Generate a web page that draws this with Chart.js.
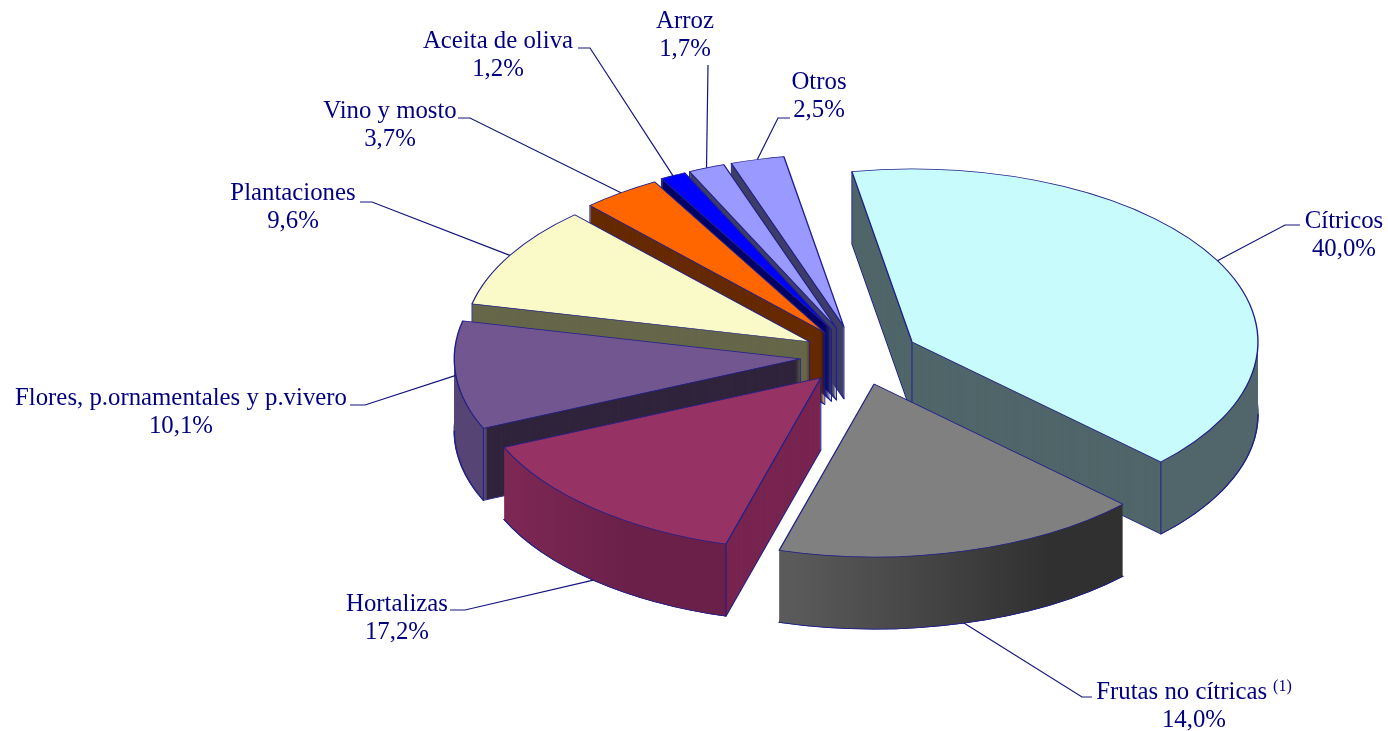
<!DOCTYPE html>
<html>
<head>
<meta charset="utf-8">
<title>Pie</title>
<script src="https://cdn.jsdelivr.net/npm/chart.js@4"></script>
<style>
html, body { margin: 0; padding: 0; background: #fff; }
canvas { display: block; }
</style>
</head>
<body>
<canvas id="myChart" width="1388" height="731"></canvas>
<script>
// slice sizes as drawn in the picture, clockwise from the Citricos slice
var sliceValues = [40.0, 17.2, 14.0, 10.1, 9.6, 3.7, 1.2, 1.7, 2.5];
var labelNames = ['Cítricos', 'Frutas no cítricas', 'Hortalizas', 'Flores, p.ornamentales y p.vivero',
    'Plantaciones', 'Vino y mosto', 'Aceita de oliva', 'Arroz', 'Otros'];
var labelValues = ['40,0%', '14,0%', '17,2%', '10,1%', '9,6%', '3,7%', '1,2%', '1,7%', '2,5%'];
var labelNotes = ['', '(1)', '', '', '', '', '', '', ''];

var topColors = ['#c8fbfb', '#808080', '#963264', '#725690', '#fafac8', '#ff6600', '#0000ff', '#9999ff', '#9999ff'];
var faceColors = ['#50666a', '#404040', '#782450', '#30243c', '#66664a', '#662a00', '#000066', '#3d3d66', '#3d3d66'];
var wallLeft = ['#50666a', '#5a5a5a', '#842a5a', '#5f5084', '#66664a', '#662a00', '#000066', '#3d3d66', '#3d3d66'];
var wallRight = ['#50666a', '#303030', '#6a2048', '#554474', '#66664a', '#662a00', '#000066', '#3d3d66', '#3d3d66'];

// how far each slice is pulled out of the pie
var explodes = [60, 58, 58, 59, 57, 58, 60, 60, 60];

// label layout: centre x, first baseline, leader elbow, leader end, leader starts on lower rim
var labelX = [1344, 1194, 397, 181, 293, 390, 498, 685, 819];
var labelY = [228, 699, 611, 405, 200, 118, 48, 28, 89];
var elbows = [[1285, 225], [1082, 697], [465, 610], [365, 405], [372, 202], [470, 118], [590, 48], [708, 65], [778, 118]];
var leaderEnds = [[1300, 225], [1092, 697], [450, 610], [350, 405], [360, 202], [458, 118], [578, 48], [708, 65], [790, 118]];
var leaderLow = [0, 1, 1, 0, 0, 0, 0, 0, 0];

var drawOrder = [8, 7, 6, 5, 4, 3, 0, 1, 2];
var SQUASH = 0.5, DEPTH = 72;
var EDGE = '#20208a', TEXT = '#000080', FONT = '"Liberation Serif", "Times New Roman", serif';

function copyArc(arc, fill, stroke, width, extra) {
    var a = Object.create(arc);
    a.options = {
        backgroundColor: fill, borderColor: stroke, borderWidth: width, borderAlign: 'center',
        borderJoinStyle: 'round', borderRadius: 0, borderDash: [], borderDashOffset: 0,
        offset: 0, spacing: 0, circular: true
    };
    if (extra) Object.assign(a, extra);
    return a;
}

function pieSpace(ctx, arc, dx, dy) {
    ctx.setTransform(1, 0, 0, SQUASH, dx, arc.y * (1 - SQUASH) + dy);
}

var pie3d = {
    id: 'pie3d',
    beforeDatasetsDraw: function (chart) {
        var ctx = chart.ctx;
        var arcs = chart.getDatasetMeta(0).data;
        var dpr = chart.currentDevicePixelRatio || 1;
        drawOrder.forEach(function (i) {
            var arc = arcs[i];
            var mid = (arc.startAngle + arc.endAngle) / 2;
            var ex = Math.cos(mid) * explodes[i], ey = Math.sin(mid) * explodes[i] * SQUASH;
            var d;
            ctx.save();
            // radial faces
            pieSpace(ctx, arc, ex, ey + DEPTH);
            copyArc(arc, faceColors[i], EDGE, 1.4).draw(ctx);
            for (d = DEPTH - 1; d > 0; d--) {
                pieSpace(ctx, arc, ex, ey + d);
                copyArc(arc, faceColors[i], EDGE, 0).draw(ctx);
            }
            // outer wall, only the part of the rim that faces the viewer
            var s = arc.startAngle, e = arc.endAngle;
            if (s > Math.PI) { s -= 2 * Math.PI; e -= 2 * Math.PI; }
            var ws = Math.max(s, 0), we = Math.min(e, Math.PI);
            if (we > ws) {
                var x0 = arc.x + ex + Math.cos(we) * arc.outerRadius;
                var x1 = arc.x + ex + Math.cos(ws) * arc.outerRadius;
                ctx.setTransform(1, 0, 0, 1, 0, 0);
                var grad = ctx.createLinearGradient(x0, 0, x1, 0);
                grad.addColorStop(0, wallLeft[i]);
                grad.addColorStop(0.75, wallRight[i]);
                grad.addColorStop(1, wallRight[i]);
                var rim = { startAngle: ws, endAngle: we, circumference: we - ws, innerRadius: arc.outerRadius - 4 };
                for (d = DEPTH; d > 0; d--) {
                    pieSpace(ctx, arc, ex, ey + d);
                    copyArc(arc, grad, EDGE, 0, rim).draw(ctx);
                }
                // lower outline of the wall
                pieSpace(ctx, arc, ex, ey + DEPTH);
                copyArc(arc, 'rgba(0,0,0,0)', EDGE, 1.4, {
                    startAngle: ws, endAngle: we, circumference: we - ws, innerRadius: arc.outerRadius - 0.01
                }).draw(ctx);
            }
            // vertical edges at the visible corners
            ctx.setTransform(1, 0, 0, 1, 0, 0);
            ctx.strokeStyle = EDGE;
            ctx.lineWidth = 1;
            var ax = arc.x + ex, ay = arc.y + ey;
            var corner = function (a) {
                var px = ax + Math.cos(a) * arc.outerRadius, py = ay + Math.sin(a) * arc.outerRadius * SQUASH;
                ctx.beginPath();
                ctx.moveTo(px, py);
                ctx.lineTo(px, py + DEPTH);
                ctx.stroke();
            };
            var startShows = Math.cos(s) < 0, endShows = Math.cos(e) > 0;
            if (startShows) corner(s);
            if (endShows) corner(e);
            if (startShows || endShows) {
                ctx.beginPath();
                ctx.moveTo(ax, ay);
                ctx.lineTo(ax, ay + DEPTH);
                ctx.stroke();
            }
            // top of the slice
            pieSpace(ctx, arc, ex, ey);
            copyArc(arc, topColors[i], EDGE, 1.4).draw(ctx);
            ctx.restore();
        });
        ctx.setTransform(dpr, 0, 0, dpr, 0, 0);
        drawLabels(ctx, arcs);
        return false;
    }
};

function drawLabels(ctx, arcs) {
    ctx.save();
    arcs.forEach(function (arc, i) {
        var mid = (arc.startAngle + arc.endAngle) / 2;
        var r = explodes[i] + arc.outerRadius;
        var sx = arc.x + Math.cos(mid) * r;
        var sy = arc.y + Math.sin(mid) * r * SQUASH + leaderLow[i] * DEPTH;
        ctx.strokeStyle = '#14147f';
        ctx.lineWidth = 1.2;
        ctx.beginPath();
        ctx.moveTo(sx, sy);
        ctx.lineTo(elbows[i][0], elbows[i][1]);
        ctx.lineTo(leaderEnds[i][0], leaderEnds[i][1]);
        ctx.stroke();

        ctx.fillStyle = TEXT;
        ctx.textBaseline = 'alphabetic';
        ctx.textAlign = 'left';
        ctx.font = '24.8px ' + FONT;
        var w = ctx.measureText(labelNames[i]).width;
        var noteGap = labelNotes[i] ? 6 : 0;
        ctx.font = '16px ' + FONT;
        var nw = labelNotes[i] ? ctx.measureText(labelNotes[i]).width : 0;
        var left = labelX[i] - (w + noteGap + nw) / 2;
        ctx.font = '24.8px ' + FONT;
        ctx.fillText(labelNames[i], left, labelY[i]);
        ctx.textAlign = 'center';
        ctx.fillText(labelValues[i], labelX[i], labelY[i] + 28);
        if (labelNotes[i]) {
            ctx.textAlign = 'left';
            ctx.font = '16px ' + FONT;
            ctx.fillText(labelNotes[i], left + w + noteGap, labelY[i] - 8);
        }
    });
    ctx.restore();
}

var myPie = new Chart(document.getElementById('myChart'), {
    type: 'pie',
    data: {
        labels: labelNames,
        datasets: [{ data: sliceValues, backgroundColor: topColors, borderColor: EDGE, borderWidth: 1 }]
    },
    options: {
        responsive: false,
        animation: false,
        rotation: -10,
        radius: 346,
        layout: { padding: { left: 330, bottom: 19 } },
        plugins: { legend: { display: false }, tooltip: { enabled: false } },
        events: []
    },
    plugins: [pie3d]
});
</script>
</body>
</html>
